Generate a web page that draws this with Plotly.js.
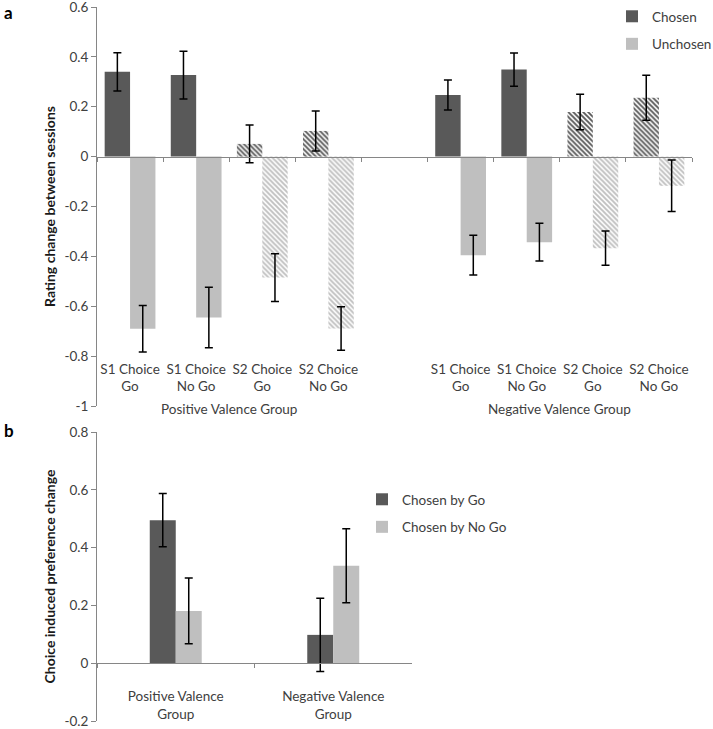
<!DOCTYPE html>
<html>
<head>
<meta charset="utf-8">
<script src="https://cdn.plot.ly/plotly-3.0.1.min.js"></script>
<style>html,body{margin:0;padding:0;background:#fff;}#chart{width:713px;height:729px;}</style>
</head>
<body>
<div id="chart"></div>
<script>
// ---------- Panel a data ----------
const conditionLabels = ['S1 Choice<br>Go', 'S1 Choice<br>No Go', 'S2 Choice<br>Go', 'S2 Choice<br>No Go'];
const conditionIds = ['S1Go', 'S1NoGo', 'S2Go', 'S2NoGo'];
const groupLabels = ['Positive Valence Group', 'Negative Valence Group'];
const groupIds = ['Pos', 'Neg'];
const hatchedConditions = [false, false, true, true];

const posChosen = [0.340, 0.327, 0.051, 0.103];
const posChosenErr = [0.077, 0.096, 0.076, 0.080];
const posUnchosen = [-0.690, -0.645, -0.485, -0.689];
const posUnchosenErr = [0.093, 0.121, 0.096, 0.087];

const negChosen = [0.247, 0.349, 0.179, 0.236];
const negChosenErr = [0.060, 0.067, 0.071, 0.090];
const negUnchosen = [-0.395, -0.343, -0.367, -0.117];
const negUnchosenErr = [0.080, 0.076, 0.069, 0.103];

const aTickVals = [-1, -0.8, -0.6, -0.4, -0.2, 0, 0.2, 0.4, 0.6];
const aTickText = ['-1', '-0.8', '-0.6', '-0.4', '-0.2', '0', '0.2', '0.4', '0.6'];

// ---------- Panel b data ----------
const bCategories = ['Positive Valence<br>Group', 'Negative Valence<br>Group'];
const byGo = [0.495, 0.098];
const byGoErr = [0.092, 0.127];
const byNoGo = [0.181, 0.337];
const byNoGoErr = [0.114, 0.128];

const bTickVals = [-0.2, 0, 0.2, 0.4, 0.6, 0.8];
const bTickText = ['-0.2', '0', '0.2', '0.4', '0.6', '0.8'];

// ---------- build categories ----------
const posIds = conditionIds.map(c => groupIds[0] + '_' + c);
const negIds = conditionIds.map(c => groupIds[1] + '_' + c);
const gapId = 'gap';
const categoryArray = [...posIds, gapId, ...negIds];
const tickText = [...conditionLabels, '', ...conditionLabels];

const xA = [...posIds, ...negIds];
const chosenA = [...posChosen, ...negChosen];
const chosenErrA = [...posChosenErr, ...negChosenErr];
const unchosenA = [...posUnchosen, ...negUnchosen];
const unchosenErrA = [...posUnchosenErr, ...negUnchosenErr];
const hatchA = [...hatchedConditions, ...hatchedConditions].map(h => h ? '\\' : '');

const DARK = '#595959', LIGHT = '#bfbfbf', AXIS = '#868686', TXT = '#404040';
const FONT = 'Lato, "Open Sans", sans-serif';
const FS = 13.5;

const errStyle = {type: 'data', visible: true, color: '#000000', thickness: 1.5, width: 4};

const wA = 0.384, wB = 0.165;

const traces = [
  {
    type: 'bar', name: 'Chosen', x: xA, y: chosenA, xaxis: 'x', yaxis: 'y',
    width: wA, offset: -wA, legend: 'legend', legendgroup: 'c',
    marker: {color: DARK, line: {width: 0},
      pattern: {shape: hatchA, fgcolor: DARK, bgcolor: '#ffffff', size: 3.5, solidity: 0.55, fillmode: 'replace'}},
    error_y: Object.assign({array: chosenErrA}, errStyle)
  },
  {
    type: 'bar', name: 'Unchosen', x: xA, y: unchosenA, xaxis: 'x', yaxis: 'y',
    width: wA, offset: 0, legend: 'legend', legendgroup: 'u',
    marker: {color: LIGHT, line: {width: 0},
      pattern: {shape: hatchA, fgcolor: LIGHT, bgcolor: '#ffffff', size: 3.5, solidity: 0.55, fillmode: 'replace'}},
    error_y: Object.assign({array: unchosenErrA}, errStyle)
  },
  {
    type: 'bar', name: 'Chosen by Go', x: bCategories, y: byGo, xaxis: 'x2', yaxis: 'y2',
    width: wB, offset: -wB, legend: 'legend2', legendgroup: 'g',
    marker: {color: DARK, line: {width: 0}},
    error_y: Object.assign({array: byGoErr}, errStyle)
  },
  {
    type: 'bar', name: 'Chosen by No Go', x: bCategories, y: byNoGo, xaxis: 'x2', yaxis: 'y2',
    width: wB, offset: 0, legend: 'legend2', legendgroup: 'n',
    marker: {color: LIGHT, line: {width: 0}},
    error_y: Object.assign({array: byNoGoErr}, errStyle)
  }
];

const H = 729, W = 713;
const domA = [1 - 406 / H, 1 - 7 / H];
const rangeA = [-1, 0.6];
const domB = [1 - 721 / H, 1 - 432 / H];
const rangeB = [-0.2, 0.8];
const zeroPos = (dom, rng) => dom[0] + (0 - rng[0]) / (rng[1] - rng[0]) * (dom[1] - dom[0]);

const axisCommon = {
  showgrid: false, zeroline: false, showline: true, linecolor: AXIS, linewidth: 1,
  ticks: 'outside', tickcolor: AXIS, ticklen: 5, tickwidth: 1, tickangle: 0,
  ticklabeloverflow: 'allow',
  tickfont: {family: FONT, size: FS, color: TXT}, automargin: false, fixedrange: true
};

const groupCenter = ids => (categoryArray.indexOf(ids[0]) + categoryArray.indexOf(ids[ids.length - 1])) / 2;

const layout = {
  width: W, height: H,
  margin: {l: 0, r: 0, t: 0, b: 0, pad: 0, autoexpand: false},
  paper_bgcolor: '#ffffff', plot_bgcolor: 'rgba(0,0,0,0)',
  font: {family: FONT, color: TXT},
  barmode: 'overlay',
  showlegend: true,
  xaxis: Object.assign({}, axisCommon, {
    domain: [97 / W, 692 / W], anchor: 'free', position: zeroPos(domA, rangeA),
    type: 'category', categoryorder: 'array', categoryarray: categoryArray,
    tickmode: 'array', tickvals: categoryArray, ticktext: tickText,
    tickson: 'boundaries', ticklen: 4, ticklabelstandoff: 200,
    range: [-0.5, categoryArray.length - 0.5]
  }),
  yaxis: Object.assign({}, axisCommon, {
    domain: domA, anchor: 'x', range: rangeA,
    tickmode: 'array', tickvals: aTickVals, ticktext: aTickText,
    title: {text: 'Rating change between sessions', font: {family: FONT, size: 14, color: '#1a1a1a', weight: 'bold'}, standoff: 5}
  }),
  xaxis2: Object.assign({}, axisCommon, {
    domain: [97 / W, 412 / W], anchor: 'free', position: zeroPos(domB, rangeB),
    type: 'category', tickson: 'boundaries', ticklen: 4, ticklabelstandoff: 21,
    range: [-0.5, bCategories.length - 0.5]
  }),
  yaxis2: Object.assign({}, axisCommon, {
    domain: domB, anchor: 'x2', range: rangeB,
    tickmode: 'array', tickvals: bTickVals, ticktext: bTickText,
    title: {text: 'Choice induced preference change', font: {family: FONT, size: 14, color: '#1a1a1a', weight: 'bold'}, standoff: 5}
  }),
  legend: {
    x: 612 / W, y: 1 - 1 / H, xanchor: 'left', yanchor: 'top',
    font: {family: FONT, size: FS, color: TXT}, bgcolor: 'rgba(0,0,0,0)',
    tracegroupgap: 7, itemclick: false
  },
  legend2: {
    x: 362 / W, y: 1 - 484 / H, xanchor: 'left', yanchor: 'top',
    font: {family: FONT, size: FS, color: TXT}, bgcolor: 'rgba(0,0,0,0)',
    tracegroupgap: 7, itemclick: false
  },
  annotations: [
    {text: '<b>a</b>', xref: 'paper', yref: 'paper', x: 2 / W, y: 1 - 0 / H, xanchor: 'left', yanchor: 'top',
     showarrow: false, font: {family: FONT, size: 17, color: '#000'}},
    {text: '<b>b</b>', xref: 'paper', yref: 'paper', x: 2 / W, y: 1 - 418 / H, xanchor: 'left', yanchor: 'top',
     showarrow: false, font: {family: FONT, size: 17, color: '#000'}},
    {text: groupLabels[0], xref: 'x', yref: 'paper', x: groupCenter(posIds), y: 1 - 409 / H, yanchor: 'middle',
     showarrow: false, font: {family: FONT, size: FS, color: TXT}},
    {text: groupLabels[1], xref: 'x', yref: 'paper', x: groupCenter(negIds), y: 1 - 409 / H, yanchor: 'middle',
     showarrow: false, font: {family: FONT, size: FS, color: TXT}}
  ]
};

Plotly.newPlot('chart', traces, layout, {displayModeBar: false, staticPlot: true});
</script>
</body>
</html>
